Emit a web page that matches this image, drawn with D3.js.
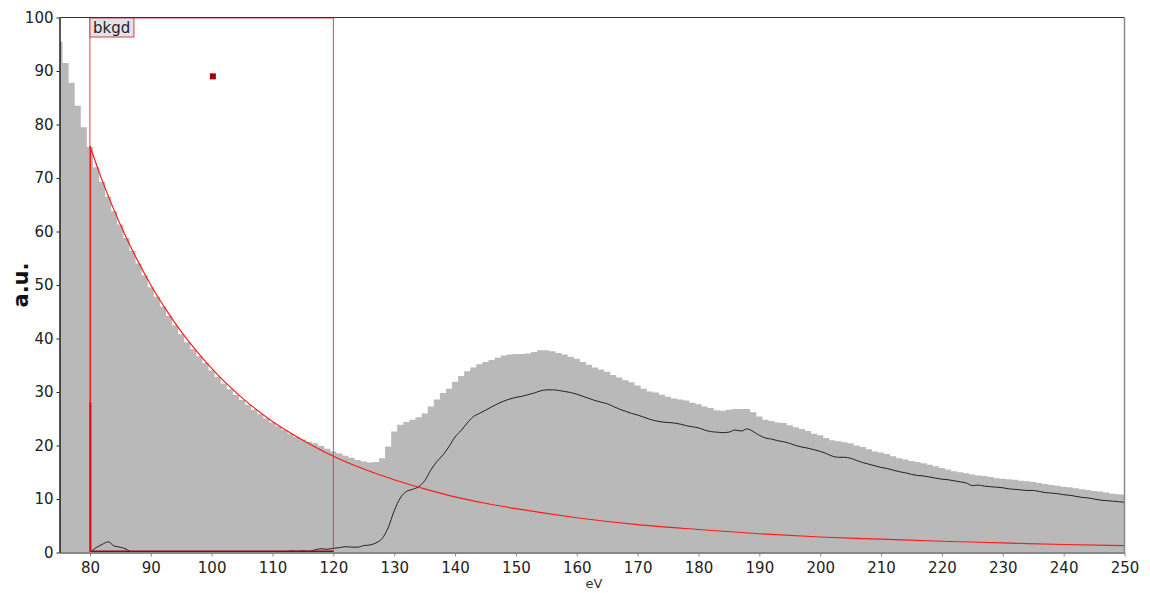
<!DOCTYPE html>
<html>
<head>
<meta charset="utf-8">
<script src="https://cdn.jsdelivr.net/npm/d3@7"></script>
<style>
  body { margin: 0; background: #fff; }
  text { font-family: "DejaVu Sans", sans-serif; }
</style>
</head>
<body>
<div id="chart-area"></div>
<script>
'use strict';

// spectrum, 1 eV bins from 75 eV
let specStart = 75;
let spectrum = [
    95.5, 91.5, 87.8, 83.5, 79.5, 75.8, 72.0, 69.3, 66.5, 63.8,
    61.3, 58.8, 56.4, 54.0, 51.8, 49.6, 47.8, 46.0, 44.2, 42.5,
    40.8, 39.3, 38.0, 36.7, 35.4, 34.0, 32.8, 31.6, 30.5, 29.5,
    28.5, 27.6, 26.7, 25.9, 25.1, 24.3, 23.6, 22.9, 22.2, 21.6,
    21.1, 20.7, 20.4, 19.9, 19.4, 18.9, 18.5, 18.1, 17.7, 17.3,
    17.0, 16.8, 16.9, 17.6, 19.8, 22.6, 23.9, 24.4, 24.8, 25.3,
    26.0, 27.3, 28.6, 29.8, 30.6, 31.9, 33.0, 33.9, 34.6, 35.2,
    35.6, 36.0, 36.4, 36.8, 37.0, 37.1, 37.1, 37.2, 37.5, 37.8,
    37.8, 37.6, 37.3, 37.0, 36.6, 36.2, 35.6, 35.1, 34.6, 34.2,
    33.8, 33.2, 32.7, 32.2, 31.8, 31.2, 30.6, 30.1, 29.9, 29.5,
    29.1, 28.8, 28.6, 28.4, 28.0, 27.7, 27.3, 27.0, 26.6, 26.5,
    26.7, 26.8, 26.8, 26.8, 26.2, 25.4, 24.8, 24.6, 24.3, 24.2,
    23.8, 23.4, 23.1, 22.7, 22.2, 21.9, 21.4, 21.0, 20.8, 20.6,
    20.4, 20.0, 19.7, 19.3, 18.9, 18.7, 18.4, 18.0, 17.6, 17.4,
    17.1, 16.9, 16.7, 16.4, 16.1, 15.8, 15.5, 15.2, 15.0, 14.8,
    14.6, 14.4, 14.3, 14.1, 13.9, 13.8, 13.7, 13.6, 13.4, 13.3,
    13.2, 13.0, 12.8, 12.6, 12.5, 12.3, 12.2, 12.0, 11.8, 11.7,
    11.5, 11.4, 11.2, 11.0, 10.9, 10.8
];

// background-subtracted signal, 1 eV steps from 80 eV
let signalStart = 80;
let signal = [
    0.0, 0.9, 1.5, 2.0, 1.2, 1.0, 0.6, 0, 0, 0,
    0, 0, 0, 0, 0, 0, 0, 0, 0, 0,
    0, 0, 0, 0, 0, 0, 0, 0, 0, 0,
    0, 0, 0, 0.3, 0.2, 0.3, 0.2, 0.5, 0.7, 0.6,
    0.8, 0.9, 1.1, 1.0, 1.0, 1.3, 1.4, 1.8, 2.6, 4.6,
    7.8, 10.2, 11.4, 11.8, 12.3, 13.4, 15.4, 17.0, 18.2, 19.8,
    21.6, 22.8, 24.2, 25.4, 26.0, 26.6, 27.2, 27.8, 28.3, 28.7,
    29.0, 29.2, 29.5, 29.8, 30.2, 30.4, 30.4, 30.3, 30.1, 29.9,
    29.6, 29.2, 28.8, 28.4, 28.1, 27.8, 27.3, 26.8, 26.4, 26.0,
    25.7, 25.3, 24.9, 24.6, 24.4, 24.3, 24.2, 24.0, 23.7, 23.5,
    23.3, 22.9, 22.6, 22.5, 22.4, 22.5, 22.9, 22.7, 23.1, 22.6,
    21.9, 21.4, 21.2, 20.9, 20.7, 20.4, 20.0, 19.7, 19.5, 19.2,
    18.9, 18.5, 18.0, 17.8, 17.8, 17.6, 17.2, 16.8, 16.5, 16.2,
    15.9, 15.7, 15.4, 15.1, 14.9, 14.6, 14.4, 14.3, 14.1, 13.9,
    13.7, 13.6, 13.4, 13.2, 13.0, 12.5, 12.6, 12.4, 12.3, 12.2,
    12.1, 11.9, 11.8, 11.7, 11.6, 11.6, 11.4, 11.2, 11.1, 11.0,
    10.8, 10.7, 10.5, 10.3, 10.2, 10.0, 9.8, 9.7, 9.6, 9.5,
    9.4
];

// background fit
let fitEnergy = [80, 82, 84, 86, 88, 90, 92.5, 95, 97.5, 100, 105, 110, 115, 120, 125,
    130, 135, 140, 145, 150, 155, 160, 170, 180, 190, 200, 210, 220, 230, 240, 250];
let fitValue = [76.0, 69.6, 63.9, 58.8, 54.2, 50.0, 45.4, 41.3, 37.7, 34.4, 28.9, 24.5, 21.0, 18.0, 15.6,
    13.6, 11.9, 10.4, 9.2, 8.2, 7.3, 6.5, 5.2, 4.3, 3.5, 2.9, 2.5, 2.1, 1.8, 1.5, 1.3];

let windowRange = [80, 120];
let windowLabel = 'bkgd';
let handle = [100.2, 89];

let xTicks = d3.range(80, 251, 10);
let yTicks = d3.range(0, 101, 10);

draw();

function draw() {
    let width = 1150, height = 593;
    let left = 59.5, right = 1124.5, top = 17.5, bottom = 552.5;

    let svg = d3.select('#chart-area').append('svg')
        .attr('width', width)
        .attr('height', height);

    let x = d3.scaleLinear().domain([75, 250]).range([left, right]);
    let y = d3.scaleLinear().domain([0, 100]).range([bottom, top]);

    svg.append('clipPath').attr('id', 'plot')
        .append('rect')
        .attr('x', left).attr('y', top)
        .attr('width', right - left).attr('height', bottom - top);

    let plot = svg.append('g').attr('clip-path', 'url(#plot)');

    let spec = spectrum.map((v, i) => [specStart + i, v]);
    plot.append('path')
        .datum(spec)
        .attr('fill', '#b9b9b9')
        .attr('d', d3.area()
            .x(d => x(d[0]))
            .y0(y(0))
            .y1(d => y(d[1]))
            .curve(d3.curveStep));

    let sig = signal.map((v, i) => [signalStart + i, v]);
    plot.append('path')
        .datum(sig)
        .attr('fill', 'none')
        .attr('stroke', '#222')
        .attr('stroke-width', 1)
        .attr('d', d3.line()
            .x(d => x(d[0]))
            .y(d => y(d[1]))
            .curve(d3.curveMonotoneX));

    // window box
    plot.append('rect')
        .attr('x', x(windowRange[0]))
        .attr('y', top + 0.5)
        .attr('width', x(windowRange[1]) - x(windowRange[0]))
        .attr('height', bottom - top - 0.5)
        .attr('fill', 'none')
        .attr('stroke', '#d44')
        .attr('stroke-width', 1);

    plot.append('line')
        .attr('x1', x(windowRange[0])).attr('x2', x(windowRange[1]))
        .attr('y1', y(0) - 1).attr('y2', y(0) - 1)
        .attr('stroke', '#a00000')
        .attr('stroke-width', 2);

    // fit: rises from zero at the window edge, then decays
    plot.append('line')
        .attr('x1', x(fitEnergy[0]) + 0.5).attr('x2', x(fitEnergy[0]) + 0.5)
        .attr('y1', y(0)).attr('y2', y(fitValue[0]))
        .attr('stroke', '#ff1a1a')
        .attr('stroke-width', 1.2);

    plot.append('path')
        .datum(fitEnergy.map((e, i) => [e, fitValue[i]]))
        .attr('fill', 'none')
        .attr('stroke', '#ff1a1a')
        .attr('stroke-width', 1.2)
        .attr('d', d3.line()
            .x(d => x(d[0]))
            .y(d => y(d[1]))
            .curve(d3.curveMonotoneX));

    plot.append('line')
        .attr('x1', x(windowRange[0]) + 0.5).attr('x2', x(windowRange[0]) + 0.5)
        .attr('y1', y(0)).attr('y2', y(28))
        .attr('stroke', '#e01010')
        .attr('stroke-width', 2);

    // label
    let lab = svg.append('g')
        .attr('transform', 'translate(' + x(windowRange[0]) + ',' + (top + 0.5) + ')');
    lab.append('rect')
        .attr('width', 44).attr('height', 19)
        .attr('fill', '#e2e2e8')
        .attr('stroke', '#c44')
        .attr('stroke-width', 1);
    lab.append('text')
        .attr('x', 3).attr('y', 15)
        .attr('font-size', 15)
        .attr('fill', '#222')
        .text(windowLabel);

    svg.append('rect')
        .attr('x', x(handle[0]) - 3).attr('y', y(handle[1]) - 3)
        .attr('width', 6).attr('height', 6)
        .attr('fill', '#a00000');

    // frame
    svg.append('line')
        .attr('x1', left).attr('x2', right)
        .attr('y1', top).attr('y2', top)
        .attr('stroke', '#333');
    svg.append('line')
        .attr('x1', right).attr('x2', right)
        .attr('y1', top).attr('y2', bottom)
        .attr('stroke', '#888')
        .attr('stroke-width', 1.5);

    let xAxis = svg.append('g')
        .attr('transform', 'translate(0,' + bottom + ')')
        .call(d3.axisBottom(x).tickValues(xTicks).tickSize(4).tickSizeOuter(0));
    xAxis.select('.domain').attr('stroke', '#888').attr('stroke-width', 2);
    xAxis.selectAll('.tick line').attr('stroke', '#888');
    xAxis.selectAll('.tick text')
        .attr('font-size', 15)
        .attr('fill', '#222')
        .attr('font-family', '"DejaVu Sans", sans-serif')
        .attr('dy', '0.9em');

    let yAxis = svg.append('g')
        .attr('transform', 'translate(' + left + ',0)')
        .call(d3.axisLeft(y).tickValues(yTicks).tickSize(3).tickSizeOuter(0));
    yAxis.select('.domain').attr('stroke', '#222').attr('stroke-width', 1.5);
    yAxis.selectAll('.tick line').attr('stroke', '#222');
    yAxis.selectAll('.tick text')
        .attr('font-size', 15)
        .attr('fill', '#222')
        .attr('font-family', '"DejaVu Sans", sans-serif')
        .attr('x', -6);

    svg.append('text')
        .attr('x', (left + right) / 2 + 2)
        .attr('y', 588)
        .attr('text-anchor', 'middle')
        .attr('font-size', 13)
        .attr('fill', '#333')
        .text('eV');

    svg.append('text')
        .attr('transform', 'translate(28,' + 285 + ') rotate(-90)')
        .attr('text-anchor', 'middle')
        .attr('font-size', 21)
        .attr('font-weight', 'bold')
        .attr('fill', '#111')
        .text('a.u.');
}
</script>
</body>
</html>
